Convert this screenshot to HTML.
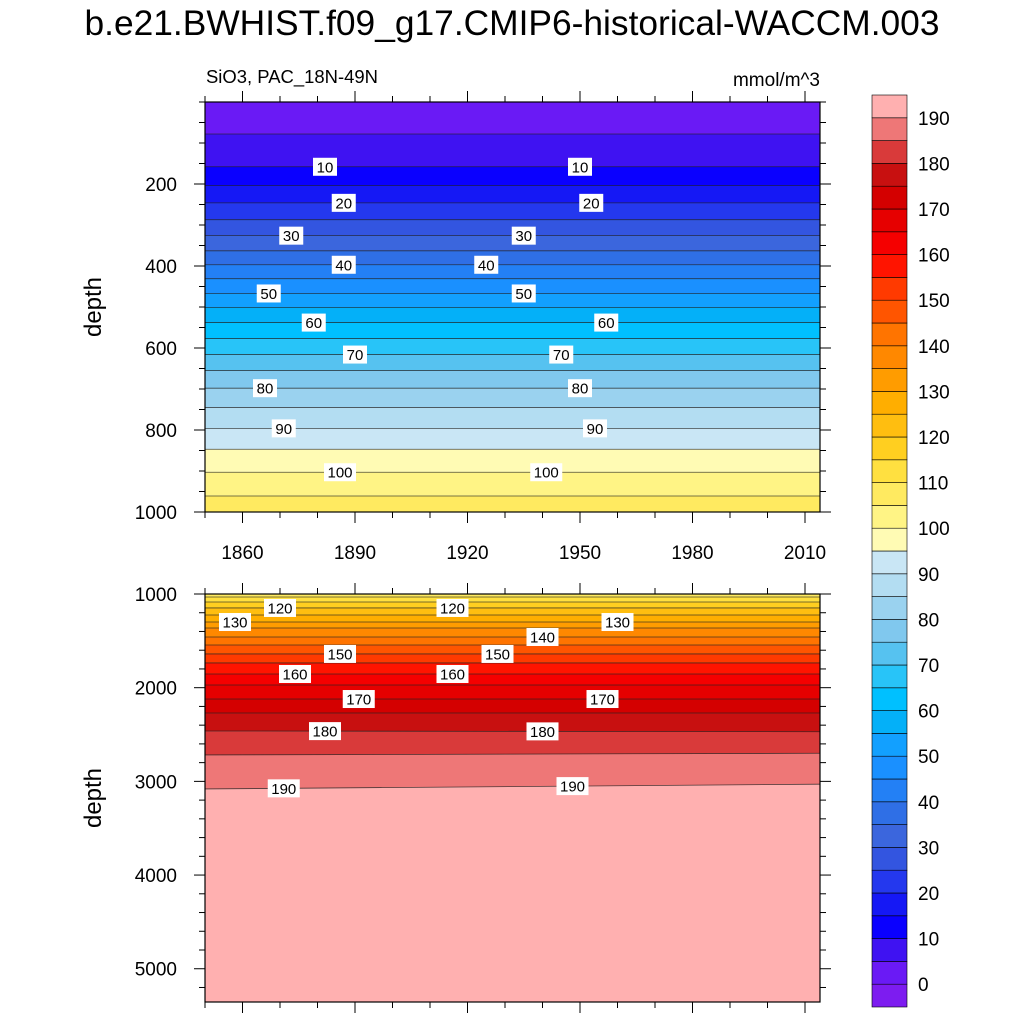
<!DOCTYPE html>
<html><head><meta charset="utf-8"><style>
html,body{margin:0;padding:0;background:#fff;overflow:hidden;}
svg{display:block;}
svg text{font-family:"Liberation Sans",sans-serif;}
</style></head><body>
<svg id="c" width="1024" height="1024" xmlns="http://www.w3.org/2000/svg"></svg>
<script>
const levels=[5,10,15,20,25,30,35,40,45,50,55,60,65,70,75,80,85,90,95,100,105,110,115,120,125,130,135,140,145,150,155,160,165,170,175,180,185,190];
const depthStart=[78,158,204,246,287,326,363,397,431,467,501,538,577,616,655,698,745,796,847,903,961,1032,1085,1149,1224,1299,1363,1459,1544,1640,1736,1854,1971,2121,2270,2462,2718,3081];
const depthEnd=[78,158,204,246,287,326,363,397,431,467,501,538,577,616,655,698,745,796,847,903,961,1032,1085,1149,1224,1299,1363,1459,1544,1640,1736,1854,1971,2121,2270,2470,2700,3030];
const cbColors=['#7d1cf0','#6a1af5','#3f12f2','#0a00ff','#1518f5','#2438ee','#3355e0','#3b66dd','#2f6fe6','#2380f5','#1a90ff','#12a0ff','#04b0f8','#00c0ff','#28c4f8','#56c2f0','#80c8ee','#9ad2ef','#b3ddf2','#c9e6f5','#fffbb4','#fff485','#ffea60','#ffe040','#ffcf20','#ffbe10','#ffae00','#ff9c00','#ff8800','#ff7400','#ff5500','#ff3a00','#ff1400','#f50000','#e60000','#d40000','#c81010','#d93a3a','#ee7777','#ffb0b0'];
const cbLabels=[0,10,20,30,40,50,60,70,80,90,100,110,120,130,140,150,160,170,180,190];
const xTicks=[1860,1890,1920,1950,1980,2010];
const topYTicks=[200,400,600,800,1000];
const botYTicks=[1000,2000,3000,4000,5000];
const labelYears=[1882,1950,1887,1953,1873,1935,1887,1925,1867,1935,1879,1957,1890,1945,1866,1950,1871,1954,1886,1941,1870,1916,1858,1960,1940,1886,1928,1874,1916,1891,1956,1882,1940,1871,1948];
const labelLevels=[10,10,20,20,30,30,40,40,50,50,60,60,70,70,80,80,90,90,100,100,120,120,130,130,140,150,150,160,160,170,170,180,180,190,190];

const NS='http://www.w3.org/2000/svg';
const svg=document.getElementById('c');
function mk(t,a,p){const e=document.createElementNS(NS,t);for(const k in a)e.setAttribute(k,a[k]);(p||svg).appendChild(e);return e;}
const X0=1850,X1=2014,PL=205,PR=820;
const xs=y=>PL+(y-X0)/(X1-X0)*(PR-PL);
const panels=[{top:102,bot:512,d0:0,d1:1000,ticks:topYTicks,minor:50,name:'upper'},{top:594,bot:1002,d0:1000,d1:5355,ticks:botYTicks,minor:200,name:'lower'}];
let t=mk('text',{x:512,y:35,'font-size':35,'text-anchor':'middle',textLength:855,lengthAdjust:'spacingAndGlyphs'});t.textContent='b.e21.BWHIST.f09_g17.CMIP6-historical-WACCM.003';

t=mk('text',{x:206,y:83,'font-size':18,textLength:172,lengthAdjust:'spacingAndGlyphs'});t.textContent='SiO3, PAC_18N-49N';

t=mk('text',{x:820,y:86,'font-size':19,'text-anchor':'end'});t.textContent='mmol/m^3';


panels.forEach((P,pi)=>{
  const ys=d=>P.top+(d-P.d0)/(P.d1-P.d0)*(P.bot-P.top);
  const g=mk('g',{});
  
  const cid='clip'+pi;
  const cp=mk('clipPath',{id:cid},g);mk('rect',{x:PL,y:P.top,width:PR-PL,height:P.bot-P.top},cp);
  const cg=mk('g',{'clip-path':'url(#'+cid+')'},g);
  const bg=mk('rect',{x:PL,y:P.top,width:PR-PL,height:P.bot-P.top,fill:cbColors[1]},cg);
  
  levels.forEach((lv,i)=>{
    const y1=ys(depthStart[i]),y2=ys(depthEnd[i]);
    const poly=mk('polygon',{points:`${PL},${y1} ${PR},${y2} ${PR},${P.bot} ${PL},${P.bot}`,fill:cbColors[i+2]},cg);
    
  });
  levels.forEach((lv,i)=>{
    const ln=mk('line',{x1:PL,y1:ys(depthStart[i]),x2:PR,y2:ys(depthEnd[i]),stroke:'#222','stroke-width':0.8,'stroke-opacity':0.8},cg);
    
  });
  labelLevels.forEach((lv,j)=>{
    const i=levels.indexOf(lv);const yr=labelYears[j];
    const f=(yr-X0)/(X1-X0);const d=depthStart[i]+(depthEnd[i]-depthStart[i])*f;
    if(d<P.d0||d>P.d1)return;
    const cx=xs(yr),cy=ys(d);const w=lv>=100?32:24;
    const lg=mk('g',{},cg);
    
    mk('rect',{x:cx-w/2,y:cy-9,width:w,height:18,fill:'#fff'},lg);
    const tx=mk('text',{x:cx,y:cy+5.5,'font-size':15,'text-anchor':'middle'},lg);tx.textContent=lv;
  });
  const fr=mk('rect',{x:PL,y:P.top,width:PR-PL,height:P.bot-P.top,fill:'none',stroke:'#000','stroke-width':1.2},g);
  
  for(let yr=1850;yr<=X1;yr+=10){
    const x=xs(yr),maj=(yr-1860)%30===0,L=maj?11:6;
    mk('line',{x1:x,y1:P.top,x2:x,y2:P.top-L,stroke:'#000'},g);
    mk('line',{x1:x,y1:P.bot,x2:x,y2:Math.min(P.bot+L,1023),stroke:'#000'},g);
  }
  if(pi===0)xTicks.forEach(v=>{const tt=mk('text',{x:xs(v),y:559,'font-size':19,'text-anchor':'middle'},g);tt.textContent=v;
    });
  for(let d=Math.ceil(P.d0/P.minor)*P.minor;d<=P.d1;d+=P.minor){
    const y=ys(d),maj=P.ticks.includes(d),L=maj?11:6;
    mk('line',{x1:PL,y1:y,x2:PL-L,y2:y,stroke:'#000'},g);
    mk('line',{x1:PR,y1:y,x2:PR+L,y2:y,stroke:'#000'},g);
  }
  P.ticks.forEach(v=>{const tt=mk('text',{x:177,y:ys(v)+7,'font-size':19,'text-anchor':'end'},g);tt.textContent=v;
    });
  const yc=(P.top+P.bot)/2;
  const yt=mk('text',{x:101,y:yc,'font-size':24,'text-anchor':'middle',transform:`rotate(-90 101 ${yc})`},g);yt.textContent='depth';
  
});
const cb=mk('g',{});

const CB0=1007,CBH=22.8,CBX=872,CBW=35;
cbColors.forEach((c,i)=>{
  const r=mk('rect',{x:CBX,y:CB0-(i+1)*CBH,width:CBW,height:CBH,fill:c,stroke:'#000','stroke-width':0.6},cb);
  
});
cbLabels.forEach(v=>{
  const k=v/5+1;const tt=mk('text',{x:918,y:CB0-k*CBH+7,'font-size':19},cb);tt.textContent=v;
  
});
</script>
</body></html>
